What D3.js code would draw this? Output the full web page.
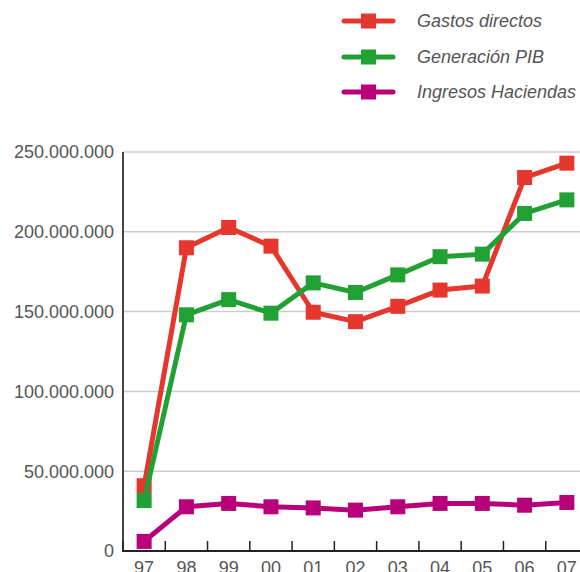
<!DOCTYPE html>
<html><head><meta charset="utf-8">
<script src="https://cdn.jsdelivr.net/npm/d3@7"></script>
<style>body{margin:0;background:#fff;overflow:hidden}svg{display:block;font-family:"Liberation Sans",Arial,sans-serif}</style>
</head><body><svg id="c" width="580" height="572"></svg>
<script>
const years = ["97","98","99","00","01","02","03","04","05","06","07"];
const gastosDirectos = [40900000,190000000,202700000,191000000,149600000,143700000,153300000,163500000,166000000,234000000,243000000];
const generacionPIB = [31600000,148000000,157500000,149000000,168000000,162000000,173000000,184400000,186000000,211500000,220000000];
const ingresosHaciendas = [6000000,27700000,29800000,27700000,27000000,25600000,27700000,29800000,29800000,28700000,30400000];
const seriesNames = ["Gastos directos","Generación PIB","Ingresos Haciendas"];
const seriesColors = ["#e5372d","#21a033","#b8007a"];
const yTicks = [0,50000000,100000000,150000000,200000000,250000000];
const titleText = "Evolución de las cifras anuales del sector";

(function(){
const series = [gastosDirectos, generacionPIB, ingresosHaciendas];
const svg = d3.select("#c");
const pl = 123, pr = 588, pt = 152, pb = 551;
const x = d3.scaleBand().domain(years).range([pl, pr]);
const y = d3.scaleLinear().domain([0, 250000000]).range([pb, pt]);
const loc = d3.formatLocale({decimal: ",", thousands: ".", grouping: [3], currency: ["", "€"]});
const fmt = loc.format(",d");

// cut-off title
svg.append("text").attr("x", 30).attr("y", 0).attr("font-size", 20).attr("font-weight", "bold")
  .attr("fill", "#999").text(titleText);

// grid
svg.append("g").selectAll("line").data(yTicks.filter(d => d > 0)).join("line")
  .attr("x1", pl).attr("x2", 580).attr("y1", d => y(d)).attr("y2", d => y(d))
  .attr("stroke", "#cccccc").attr("stroke-width", 1.5);

// y labels
svg.append("g").selectAll("text").data(yTicks).join("text")
  .attr("x", 114).attr("y", d => y(d)).attr("dy", "0.36em").attr("text-anchor", "end")
  .attr("font-size", 18).attr("fill", "#555").text(d => fmt(d));

// y axis line
svg.append("line").attr("x1", pl).attr("x2", pl).attr("y1", pt).attr("y2", pb)
  .attr("stroke", "#444").attr("stroke-width", 2);
// x axis
svg.append("line").attr("x1", pl - 1).attr("x2", 580).attr("y1", pb).attr("y2", pb)
  .attr("stroke", "#222").attr("stroke-width", 2);
// x ticks at band boundaries
svg.append("g").selectAll("line").data(years).join("line")
  .attr("x1", d => x(d)).attr("x2", d => x(d)).attr("y1", pb).attr("y2", pb - 10)
  .attr("stroke", "#222").attr("stroke-width", 1.5);
// x labels
svg.append("g").selectAll("text").data(years).join("text")
  .attr("x", d => x(d) + x.bandwidth() / 2).attr("y", 574).attr("text-anchor", "middle")
  .attr("font-size", 18).attr("fill", "#555").text(d => d);

// series
const line = d3.line().x((d, i) => x(years[i]) + x.bandwidth() / 2).y(d => y(d));
const ms = 15;
series.forEach((s, k) => {
  const g = svg.append("g");
  g.append("path").attr("d", line(s)).attr("fill", "none").attr("stroke", seriesColors[k])
    .attr("stroke-width", 5).attr("stroke-linejoin", "round");
  g.selectAll("rect").data(s).join("rect")
    .attr("x", (d, i) => x(years[i]) + x.bandwidth() / 2 - ms / 2)
    .attr("y", d => y(d) - ms / 2).attr("width", ms).attr("height", ms)
    .attr("fill", seriesColors[k]);
});

// legend
const legY = [21, 57, 92];
const lg = svg.append("g");
seriesNames.forEach((n, k) => {
  lg.append("line").attr("x1", 344).attr("x2", 393).attr("y1", legY[k]).attr("y2", legY[k])
    .attr("stroke", seriesColors[k]).attr("stroke-width", 5).attr("stroke-linecap", "round");
  lg.append("rect").attr("x", 361).attr("y", legY[k] - 7.5).attr("width", 15).attr("height", 15)
    .attr("fill", seriesColors[k]);
  lg.append("text").attr("x", 417).attr("y", legY[k]).attr("dy", "0.36em").attr("font-size", 18)
    .attr("font-style", "italic").attr("fill", "#555").text(n);
});
})();
</script></body></html>
